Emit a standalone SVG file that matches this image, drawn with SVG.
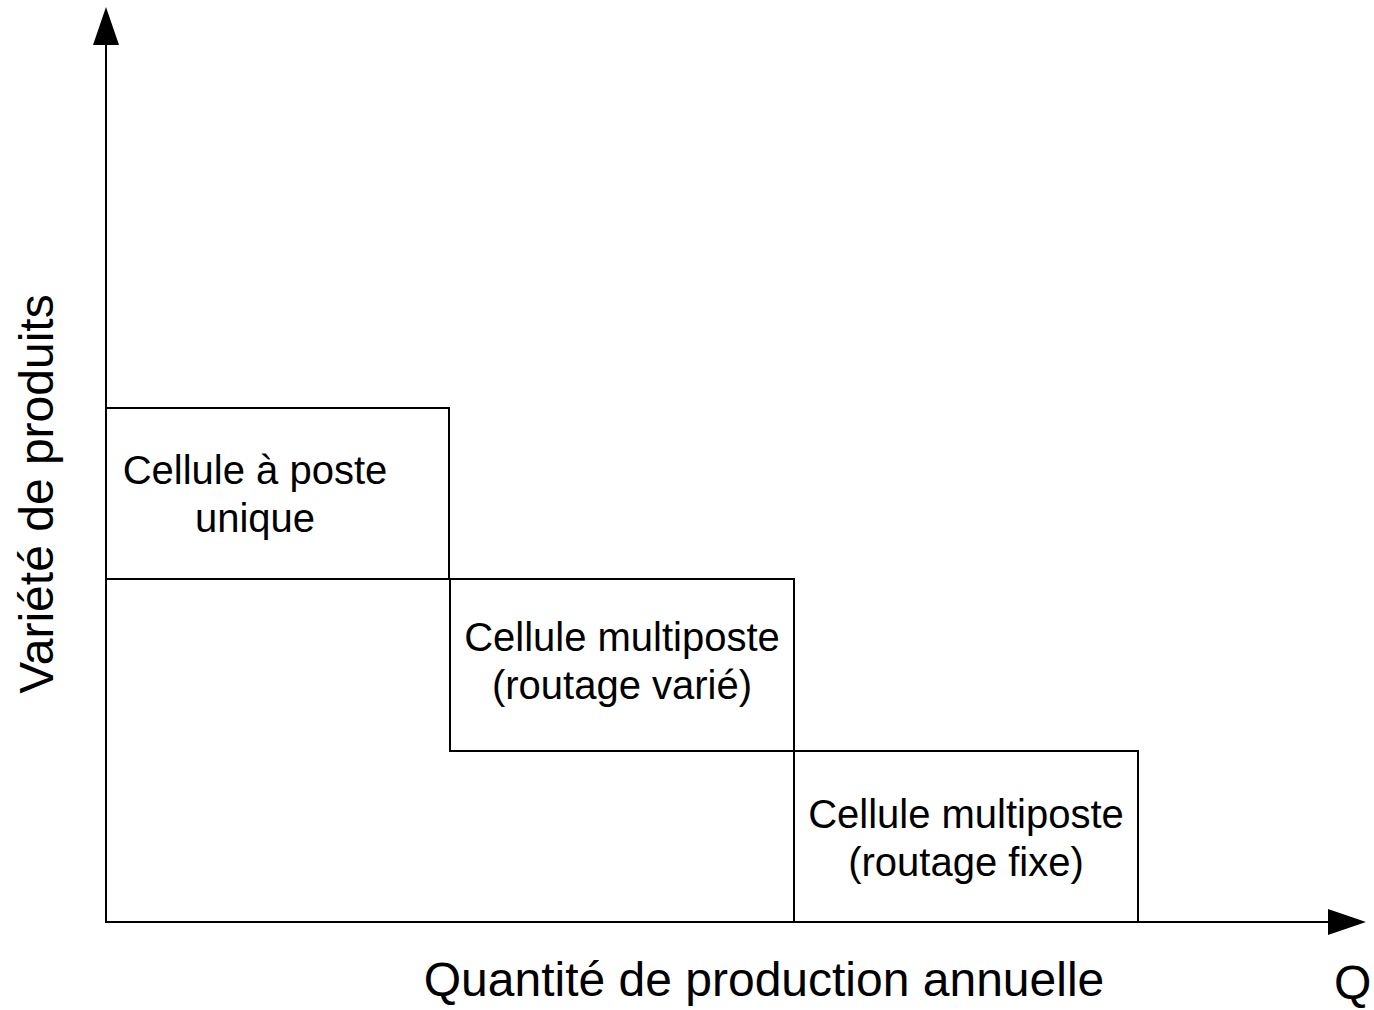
<svg xmlns="http://www.w3.org/2000/svg" width="1374" height="1010" viewBox="0 0 1374 1010">
<defs>
<style>
.ln{fill:none;stroke:#000;stroke-width:2}
.t{font-family:"Liberation Sans",Arial,sans-serif;font-size:40px;fill:#000;text-anchor:middle}
.ax{font-family:"Liberation Sans",Arial,sans-serif;font-size:48px;fill:#000}
</style>
<marker id="arr" markerUnits="userSpaceOnUse" markerWidth="40" markerHeight="28" refX="0" refY="13" orient="auto" overflow="visible">
<path d="M0,0 L38,13 L0,26 z" fill="#000"/>
</marker>
</defs>
<rect width="1374" height="1010" fill="#fff"/>
<g id="connectors">
<line class="ln" x1="106" y1="923" x2="106" y2="45" marker-end="url(#arr)"/>
<line class="ln" x1="105" y1="922" x2="1328" y2="922" marker-end="url(#arr)"/>
</g>
<g id="node-poste-unique">
<rect class="ln" x="106" y="408" width="343" height="171"/>
<text class="t" x="255" y="484">Cellule à poste</text>
<text class="t" x="255" y="532">unique</text>
</g>
<g id="node-multiposte-varie">
<rect class="ln" x="450" y="579" width="344" height="172"/>
<text class="t" x="622" y="651">Cellule multiposte</text>
<text class="t" x="622" y="699">(routage varié)</text>
</g>
<g id="node-multiposte-fixe">
<rect class="ln" x="794" y="751" width="344" height="171"/>
<text class="t" x="966" y="828">Cellule multiposte</text>
<text class="t" x="966" y="876">(routage fixe)</text>
</g>
<g id="axis-labels">
<text class="ax" x="764" y="996" text-anchor="middle">Quantité de production annuelle</text>
<text class="ax" x="1334" y="999">Q</text>
<text class="ax" transform="translate(53,494) rotate(-90)" text-anchor="middle">Variété de produits</text>
</g>
</svg>
